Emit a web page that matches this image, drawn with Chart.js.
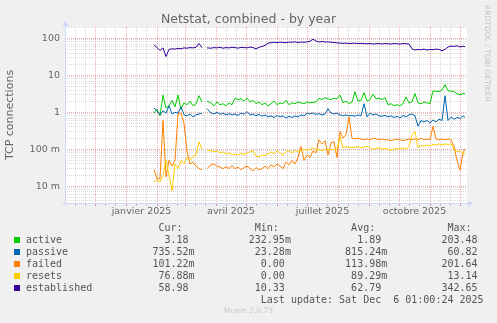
<!DOCTYPE html>
<html>
<head>
<meta charset="utf-8">
<title>Netstat, combined - by year</title>
<script src="https://cdn.jsdelivr.net/npm/chart.js@4.4.1/dist/chart.umd.min.js"></script>
<style>
  html, body { margin: 0; padding: 0; background: #f0f0f0; width: 497px; height: 323px; overflow: hidden; }
  #wrap { position: relative; width: 497px; height: 323px; }
  canvas { position: absolute; left: 0; top: 0; }
  .txt { position: absolute; font-family: 'DejaVu Sans', sans-serif; color: #666; white-space: pre; }
  #title { left: 0; width: 497px; text-align: center; top: 11px; font-size: 12.5px; line-height: 16px; }
  #brand { left: 483px; top: 5px; font-size: 7.5px; line-height: 9px; writing-mode: vertical-rl; color: #c4c4c4; }
  #munin { left: 0; width: 497px; text-align: center; top: 306px; font-size: 7.5px; line-height: 10px; color: #c8c8c8; }
  .row { position: absolute; left: 26px; font-family: 'DejaVu Sans Mono', monospace; font-size: 10px; line-height: 12px; color: #555; white-space: pre; }
  .sw { position: absolute; left: 14px; width: 6px; height: 6px; }
</style>
</head>
<body>
<div id="wrap">
  <canvas id="chart" width="497" height="323"></canvas>
  <div id="title" class="txt">Netstat, combined - by year</div>
  <div id="brand" class="txt">RRDTOOL / TOBI OETIKER</div>
  <div id="legend"></div>
  <div id="munin" class="txt">Munin 2.0.73</div>
</div>
<script>
// Sample dates, as days since 1 Nov 2024 (the left edge of the 400-day window)
const sampleDays = [
  89, 92, 95, 98, 101, 104, 107, 110, 113, 116,
  119, 122, 125, 128, 131, 134, 137, 140, 142, 146,
  149, 152, 155, 158, 161, 164, 167, 170, 173, 176,
  179, 182, 185, 188, 191, 194, 197, 200, 203, 206,
  209, 212, 215, 218, 221, 224, 227, 230, 233, 236,
  239, 242, 245, 248, 251, 254, 257, 260, 263, 266,
  269, 272, 275, 278, 281, 284, 287, 290, 293, 296,
  299, 302, 305, 308, 311, 314, 317, 320, 323, 326,
  329, 332, 335, 338, 341, 344, 347, 350, 353, 356,
  359, 362, 365, 368, 371, 374, 377, 380, 383, 386,
  389, 392, 395, 398, 400
];

const active = [
  0.95, 1.2, 0.8, 2.9, 1.3, 1.5, 2.1, 1.4, 2.9, 1.2,
  1.8, 1.6, 2.0, 1.5, 1.7, 2.8, 1.9, null, 2.0, 1.8,
  1.5, 1.9, 1.6, 1.7, 1.5, 1.8, 1.6, 2.4, 2.2, 2.3,
  2.0, 2.4, 1.9, 2.1, 1.7, 1.9, 1.6, 1.8, 1.5, 1.7,
  2.0, 1.6, 1.8, 1.7, 2.1, 1.6, 1.8, 1.7, 1.9, 1.8,
  1.7, 1.9, 1.8, 1.85, 1.9, 2.4, 2.2, 2.5, 2.3, 2.2,
  2.4, 2.3, 2.9, 1.8, 2.0, 1.7, 1.9, 3.6, 2.0, 2.1,
  3.4, 2.0, 2.2, 3.1, 2.3, 2.4, 2.2, 2.5, 1.6, 1.7,
  1.5, 1.6, 1.5, 1.7, 2.6, 1.8, 1.9, 3.2, 1.8, 1.7,
  1.9, 1.8, 1.7, 3.8, 3.7, 3.6, 4.0, 5.6, 3.8, 3.7,
  3.7, 3.1, 3.0, 3.2, 3.18
];

const passive = [
  1.3, 1.1, 0.85, 1.1, 0.95, 1.5, 0.9, 1.0, 0.95, 1.4,
  0.85, 0.8, 0.9, 0.75, 0.85, 0.9, 0.95, null, 1.25, 0.95,
  0.9, 1.0, 0.88, 0.95, 0.85, 0.92, 0.85, 0.9, 0.82, 0.95,
  0.88, 1.05, 0.85, 0.9, 0.8, 0.88, 0.78, 0.85, 0.75, 0.8,
  0.72, 0.82, 0.75, 0.8, 0.7, 0.78, 0.72, 0.8, 0.75, 0.85,
  0.8, 0.95, 0.9, 0.95, 0.88, 0.92, 0.85, 0.9, 1.25, 0.95,
  0.9, 0.95, 0.85, 0.8, 0.85, 0.8, 0.82, 0.78, 0.85, 0.8,
  1.7, 0.75, 0.95, 0.85, 0.9, 0.8, 0.78, 0.82, 0.75, 0.8,
  0.72, 0.78, 0.7, 0.82, 0.75, 0.85, 0.9, 0.8, 0.42, 0.6,
  0.55, 0.6, 0.52, 0.62, 0.55, 0.65, 0.6, 2.8, 0.6, 0.75,
  0.65, 0.72, 0.68, 0.8, 0.73552
];

const failed = [
  0.028, 0.016, 0.016, 0.6, 0.018, 0.05, 0.035, 0.05, 0.9, 0.95,
  0.5, 0.09, 0.04, 0.045, 0.035, 0.03, 0.028, null, 0.03, 0.038,
  0.04, 0.035, 0.033, 0.03, 0.034, 0.03, 0.036, 0.03, 0.033, 0.028,
  0.032, 0.035, 0.03, 0.026, 0.032, 0.028, 0.03, 0.035, 0.03, 0.038,
  0.033, 0.04, 0.035, 0.03, 0.045, 0.038, 0.05, 0.04, 0.06, 0.12,
  0.05, 0.07, 0.06, 0.09, 0.08, 0.18, 0.14, 0.17, 0.07, 0.15,
  0.16, 0.06, 0.3, 0.2, 0.25, 0.75, 0.2, 0.19, 0.2, 0.19,
  0.18, 0.19, 0.18, 0.2, 0.19, 0.18, 0.19, 0.18, 0.18, 0.17,
  0.18, 0.19, 0.18, 0.17, 0.18, 0.19, 0.18, 0.19, 0.18, 0.2,
  0.18, 0.19, 0.18, 0.42, 0.19, 0.18, 0.19, 0.18, 0.19, 0.18,
  0.12, 0.05, 0.027, 0.08, 0.10122
];

const resets = [
  0.013, 0.015, 0.013, 0.02, 0.05, 0.02, 0.0075, 0.04, 0.03, 0.05,
  0.04, 0.06, 0.05, 0.065, 0.07, 0.16, 0.1, null, 0.095, 0.09,
  0.085, 0.09, 0.08, 0.085, 0.075, 0.08, 0.07, 0.075, 0.07, 0.078,
  0.072, 0.08, 0.085, 0.09, 0.065, 0.062, 0.07, 0.068, 0.075, 0.085,
  0.075, 0.09, 0.08, 0.07, 0.085, 0.09, 0.08, 0.095, 0.085, 0.09,
  0.1, 0.095, 0.1, 0.11, 0.095, 0.1, 0.09, 0.1, 0.095, 0.1,
  0.098, 0.1, 0.22, 0.11, 0.12, 0.11, 0.115, 0.11, 0.12, 0.11,
  0.115, 0.12, 0.11, 0.1, 0.105, 0.11, 0.1, 0.105, 0.1, 0.095,
  0.1, 0.105, 0.1, 0.11, 0.1, 0.12, 0.25, 0.3, 0.11, 0.13,
  0.12, 0.13, 0.125, 0.135, 0.13, 0.14, 0.13, 0.14, 0.135, 0.14,
  0.1, 0.085, 0.09, 0.075, 0.07688
];

const established = [
  66, 56, 47, 55, 32, 50, 52, 51, 53, 52,
  55, 54, 56, 55, 57, 72, 56, null, 55, 54,
  56, 55, 57, 54, 56, 55, 57, 56, 54, 57,
  56, 55, 58, 56, 52, 57, 60, 64, 74, 76,
  78, 76, 79, 77, 76, 79, 78, 80, 77, 79,
  78, 80, 83, 94, 84, 79, 82, 79, 80, 78,
  77, 75, 74, 73, 74, 72, 73, 74, 72, 73,
  72, 71, 72, 70, 71, 72, 70, 72, 71, 70,
  72, 71, 70, 72, 71, 70, 52, 48, 50, 49,
  51, 48, 50, 49, 51, 50, 46, 50, 58, 62,
  60, 63, 58, 61, 58.98
];

const seriesNames = ['active', 'passive', 'failed', 'resets', 'established'];
const seriesColors = ['#00cc00', '#0066b3', '#ff8000', '#ffcc00', '#330099'];
const seriesValues = [active, passive, failed, resets, established];

// Summary columns of the legend
const curValues = [3.18, 0.73552, 0.10122, 0.07688, 58.98];
const minValues = [0.23295, 0.02328, 0, 0, 10.33];
const avgValues = [1.89, 0.81524, 0.11398, 0.08929, 62.79];
const maxValues = [203.48, 60.82, 201.64, 13.14, 342.65];
const lastUpdate = 'Last update: Sat Dec  6 01:00:24 2025';

// Axis labels
const quarterLabels = ['janvier 2025', 'avril 2025', 'juillet 2025', 'octobre 2025'];
const quarterMonths = [[2025, 0], [2025, 3], [2025, 6], [2025, 9]];
const yMajorValues = [0.01, 0.1, 1, 10, 100];
const yMajorLabels = ['10 m', '100 m', '1', '10', '100'];

// ---- time helpers -------------------------------------------------------
const axisStart = Date.UTC(2024, 10, 1);
const dayOf = (y, m, d) => (Date.UTC(y, m, d) - axisStart) / 864e5;
const X_MAX = 402;

// month boundaries (major) and 10-day marks (minor)
const majorDays = new Set();
const xGridTicks = [];
for (let i = 0; i < 14; i++) {
  const y = 2024 + Math.floor((10 + i) / 12), m = (10 + i) % 12;
  [1, 11, 21].forEach(d => {
    const v = dayOf(y, m, d);
    if (v > 0 && v < X_MAX) {
      xGridTicks.push({ value: v });
      if (d === 1) majorDays.add(v);
    }
  });
}
const xLabelTicks = quarterMonths.map(([y, m]) => ({ value: (dayOf(y, m, 1) + dayOf(y, m + 1, 1)) / 2 }));

const MAJOR_GRID = 'rgba(215, 40, 40, 0.38)';
const MINOR_GRID = 'rgba(140, 140, 140, 0.32)';

// ---- legend table -------------------------------------------------------
function fmt(v) {
  if (v !== 0 && Math.abs(v) < 1) return (v * 1000).toFixed(2) + 'm';
  return v.toFixed(2) + ' ';
}
function padTo(line, col, str) {
  while (line.length < col - str.length) line += ' ';
  return line + str;
}
const legend = document.getElementById('legend');
const rowTop = 221.5, rowStep = 12;
function addRow(text, i) {
  const d = document.createElement('div');
  d.className = 'row';
  d.style.top = (rowTop + i * rowStep) + 'px';
  d.textContent = text;
  legend.appendChild(d);
}
let header = padTo('', 26, 'Cur:');
header = padTo(header, 42, 'Min:');
header = padTo(header, 58, 'Avg:');
header = padTo(header, 74, 'Max:');
addRow(header, 0);
seriesNames.forEach((name, i) => {
  let line = name;
  line = padTo(line, 28, fmt(curValues[i]));
  line = padTo(line, 44, fmt(minValues[i]));
  line = padTo(line, 60, fmt(avgValues[i]));
  line = padTo(line, 76, fmt(maxValues[i]));
  addRow(line, i + 1);
  const sw = document.createElement('div');
  sw.className = 'sw';
  sw.style.background = seriesColors[i];
  sw.style.top = (rowTop + (i + 1) * rowStep + 3) + 'px';
  legend.appendChild(sw);
});
addRow(padTo('', 39 + lastUpdate.length, lastUpdate), 6);

// ---- chart --------------------------------------------------------------
Chart.defaults.font.family = "'DejaVu Sans', sans-serif";
Chart.defaults.color = '#666';

const canvasFrame = {
  id: 'canvasFrame',
  beforeDraw(chart) {
    const { ctx, chartArea: a } = chart;
    ctx.save();
    ctx.fillStyle = '#ffffff';
    ctx.fillRect(a.left, a.top, a.right - a.left, a.bottom - a.top);
    ctx.restore();
  },
  beforeDatasetsDraw(chart) {
    const { ctx, chartArea: a } = chart;
    const yb = Math.round(a.bottom) + 0.5, xl = Math.round(a.left) + 0.5;
    ctx.save();
    ctx.strokeStyle = '#cfd6f8';
    ctx.fillStyle = '#cfd6f8';
    ctx.lineWidth = 1;
    ctx.beginPath();
    ctx.moveTo(a.left - 3, yb); ctx.lineTo(a.right + 2, yb);
    ctx.moveTo(xl, a.bottom + 3); ctx.lineTo(xl, a.top - 2);
    ctx.stroke();
    ctx.beginPath();
    ctx.moveTo(a.right + 1, yb - 3); ctx.lineTo(a.right + 6, yb); ctx.lineTo(a.right + 1, yb + 3);
    ctx.closePath(); ctx.fill();
    ctx.beginPath();
    ctx.moveTo(xl - 3, a.top - 1); ctx.lineTo(xl, a.top - 6); ctx.lineTo(xl + 3, a.top - 1);
    ctx.closePath(); ctx.fill();
    ctx.restore();
  }
};

const isDecade = v => Math.abs(Math.log10(v) - Math.round(Math.log10(v))) < 1e-6;

new Chart(document.getElementById('chart'), {
  type: 'line',
  data: {
    datasets: seriesNames.map((name, i) => ({
      label: name,
      data: sampleDays.map((d, k) => ({ x: d, y: seriesValues[i][k] })),
      borderColor: seriesColors[i],
      backgroundColor: seriesColors[i],
      borderWidth: 1,
      pointRadius: 0,
      tension: 0,
      spanGaps: false,
      order: seriesNames.length - i
    }))
  },
  options: {
    responsive: false,
    animation: false,
    layout: { padding: { left: 0, right: 30, top: 27, bottom: 100 } },
    plugins: { legend: { display: false }, title: { display: false }, tooltip: { enabled: false } },
    scales: {
      x: {
        type: 'linear', min: 0, max: X_MAX, position: 'bottom',
        afterBuildTicks: s => { s.ticks = xGridTicks.map(t => ({ value: t.value })); },
        afterFit: s => { s.height = 0; },
        ticks: { display: false },
        grid: {
          color: c => (c.tick && majorDays.has(c.tick.value)) ? MAJOR_GRID : MINOR_GRID,
          tickColor: c => (c.tick && majorDays.has(c.tick.value)) ? 'rgba(215,40,40,0.5)' : 'rgba(140,140,140,0.5)',
          lineWidth: 1, drawTicks: true, tickLength: 3
        },
        border: { display: false, dash: [1, 1] }
      },
      xl: {
        type: 'linear', axis: 'x', min: 0, max: X_MAX, position: 'bottom',
        afterBuildTicks: s => { s.ticks = xLabelTicks.map(t => ({ value: t.value })); },
        afterFit: s => { s.height = 20; },
        ticks: {
          autoSkip: false, maxRotation: 0, padding: 3, color: '#666',
          font: { size: 9.5 },
          callback: (v, i) => quarterLabels[i]
        },
        grid: { display: false, drawTicks: false },
        border: { display: false }
      },
      y: {
        type: 'logarithmic', min: 0.00353, max: 201.8, position: 'left',
        afterBuildTicks: s => {
          const t = [];
          for (let e = -3; e <= 2; e++) {
            for (let k = 1; k <= 9; k++) {
              const v = k * Math.pow(10, e);
              if (v >= s.min && v <= s.max) t.push({ value: v });
            }
          }
          s.ticks = t;
        },
        afterFit: s => { s.width = 65; },
        ticks: {
          autoSkip: false, padding: 5, color: '#666',
          font: { size: 9.5 },
          callback: v => {
            const j = yMajorValues.findIndex(m => Math.abs(m - v) / m < 1e-6);
            return j >= 0 ? yMajorLabels[j] : '';
          }
        },
        grid: {
          color: c => (c.tick && isDecade(c.tick.value)) ? MAJOR_GRID : MINOR_GRID,
          lineWidth: 1, drawTicks: false
        },
        border: { display: false, dash: [1, 1] },
        title: {
          display: true, text: 'TCP connections', color: '#666',
          font: { size: 11 }, padding: { top: 4, bottom: 0 }
        }
      }
    }
  },
  plugins: [canvasFrame]
});
</script>
</body>
</html>
